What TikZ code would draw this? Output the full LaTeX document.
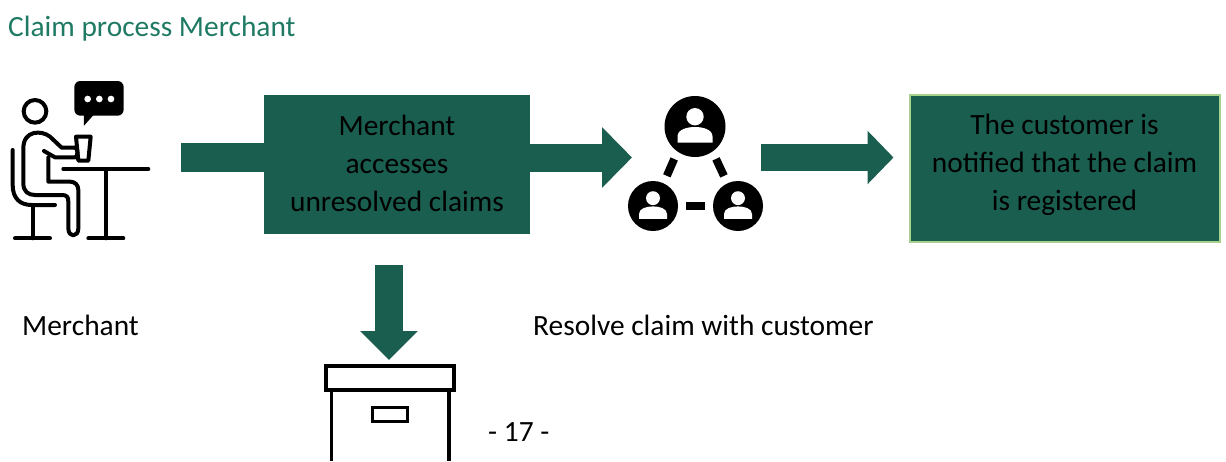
\documentclass[tikz,border=0pt]{standalone}
\usepackage{xcolor}
\usepackage{fontspec}
\setmainfont{Carlito}
\usepackage{tikz}
\usetikzlibrary{arrows.meta}
\definecolor{claimgreen}{HTML}{1A5E50}
\definecolor{titlegreen}{HTML}{1F7A64}
\definecolor{rimgreen}{HTML}{A9D18E}
\tikzstyle{blockarrow} = [claimgreen,line width=28pt,-{Triangle[length=30pt,width=59pt]}]
\tikzstyle{iconline} = [black,line width=4pt,line cap=round,line join=round]
\newcommand{\personmark}[3]{%
    \begin{scope}[shift={(#1,#2)},scale=#3]
        \fill[white] (0,-9.8) circle (8.7);
        \fill[white] (-17.5,16) -- (-17.5,10) .. controls (-17.5,3) and (-8,0.5) .. (0,0.5) .. controls (8,0.5) and (17.5,3) .. (17.5,10) -- (17.5,16) -- cycle;
    \end{scope}}

\begin{document}
\begin{tikzpicture}[x=1pt,y=-1pt]
    \tikzstyle{label}=[font=\fontsize{29.4}{35}\selectfont, inner sep=0pt, anchor=west]
    \tikzstyle{stepbox}=[fill=claimgreen, inner sep=0pt, align=center, font=\fontsize{29.4}{38}\selectfont]
    \tikzstyle{member}=[fill=black, circle, inner sep=0pt]
    \tikzstyle{link}=[black, line width=8pt, shorten >=8pt, shorten <=8pt]
    \useasboundingbox (0,0) rectangle (1226,461);

    \node[label, text=titlegreen] (title) at (8,29) {Claim process Merchant};
    \node[label] (merchant) at (22,325) {Merchant};
    \node[label] (resolve) at (533,325) {Resolve claim with customer};
    \node[label] (pagenum) at (488,432) {- 17 -};

    % boxes
    \node[stepbox, text depth=2pt, minimum width=266pt, minimum height=139pt] (access) at (397,164.5) {Merchant\\accesses\\unresolved claims};
    \node[stepbox, text depth=12pt, draw=rimgreen, line width=2pt, minimum width=310pt, minimum height=147pt] (notified) at (1064.5,168) {The customer is\\notified that the claim\\is registered};

    % people
    \node[member, minimum size=61pt] (grouptop) at (695,126.5) {};
    \node[member, minimum size=50pt] (groupleft) at (653,206) {};
    \node[member, minimum size=50pt] (groupright) at (738,206) {};
    \personmark{695}{126.5}{1}
    \personmark{653}{206}{0.8}
    \personmark{738}{206}{0.8}
    \draw[link] (grouptop.235) -- (groupleft.65);
    \draw[link] (grouptop.305) -- (groupright.115);
    \draw[link] (groupleft) -- (groupright);

    % arrows
    \coordinate (merchantout) at (181,157.5);
    \coordinate (groupin) at (632,157.5);
    \coordinate (groupout) at (761,157.5);
    \coordinate (archivetop) at (389,265);
    \coordinate (archivein) at (389,360);
    \draw[claimgreen, line width=29pt] (merchantout) -- (access.west |- merchantout);
    \draw[blockarrow] (access.east |- groupin) -- (groupin);
    \draw[blockarrow, line width=27pt, -{Triangle[length=26pt,width=52pt]}, shorten >=15pt] (groupout) -- (notified.west |- groupout);
    \draw[blockarrow, -{Triangle[length=29pt,width=56pt]}] (archivetop) -- (archivein);

    % merchant
    \begin{scope}[shift={(0,70)},scale=1/3]
        \draw[iconline] (105,124) circle (34);
        \draw[iconline] (225,233) -- (185,233) -- (150,200) .. controls (125,180) and (70,180) .. (70,235) -- (70,340) .. controls (70,365) and (85,375) .. (105,375) -- (185,375) .. controls (200,375) and (205,380) .. (205,395) -- (205,475) .. controls (205,503) and (235,503) .. (235,475) -- (235,360) .. controls (235,345) and (225,335) .. (210,335) -- (145,335) -- (145,262);
        \draw[iconline] (132,243) -- (165,262) -- (225,262) .. controls (235,262) and (235,233) .. (225,233);
        \draw[iconline] (228,200) -- (272,200) -- (265,272) -- (235,272) -- cycle;
        \draw[iconline] (190,297) -- (445,297);
        \draw[iconline] (317,297) -- (317,505);
        \draw[iconline] (265,505) -- (370,505);
        \draw[iconline] (38,240) -- (38,345) .. controls (38,385) and (60,405) .. (95,405) -- (165,405);
        \draw[iconline] (98,405) -- (98,505);
        \draw[iconline] (45,505) -- (150,505);
        \fill[black, rounded corners=6pt] (223,33) rectangle (371,137);
        \fill[black] (252,130) -- (252,167) -- (285,130) -- cycle;
        \fill[white] (263,87) circle (10) (298,87) circle (10) (333,87) circle (10);
    \end{scope}

    % archive
    \node[draw=black, line width=4pt, inner sep=0pt, minimum width=127.5pt, minimum height=23.5pt] (lid) at (390.2,378.2) {};
    \node[draw=black, line width=3pt, inner sep=0pt, minimum width=34.5pt, minimum height=14pt] (handle) at (390.2,414.7) {};
    \draw[black, line width=3.5pt] (331.7,391) -- (331.7,461);
    \draw[black, line width=3.5pt] (449,391) -- (449,461);
\end{tikzpicture}
\end{document}
